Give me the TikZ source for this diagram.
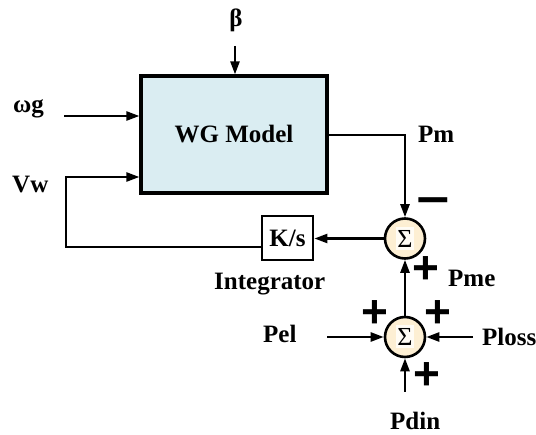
\documentclass[tikz,border=0pt]{standalone}
\usepackage{fontspec}
\setmainfont{Liberation Serif}
\newfontfamily\signfont{Liberation Sans}
\usetikzlibrary{arrows.meta}
\definecolor{boxblue}{HTML}{DAEDF2}
\definecolor{cream}{HTML}{FDEFD3}
\definecolor{sigbg}{HTML}{FFFCF5}
\begin{document}
\begin{tikzpicture}[x=1pt,y=-1pt,
  lbl/.style={font=\fontsize{25}{30}\selectfont\bfseries, inner sep=0pt},
  arr/.style={line width=2.4pt, -{Triangle[length=13pt,width=9pt]}},
  sumnode/.style={circle, draw, line width=2.6pt, fill=cream, minimum size=40pt, inner sep=0pt,
    font=\fontsize{26}{30}\selectfont,
    path picture={\fill[sigbg] ([xshift=-9pt,yshift=-11.5pt]path picture bounding box.center) rectangle ++(18pt,23pt);}},
  sign/.style={font=\signfont\fontsize{46}{50}\selectfont\bfseries, inner sep=0pt}
]
\useasboundingbox (0,0) rectangle (536,435);

% blocks
\node[draw, line width=3.2pt, fill=boxblue, minimum width=186pt, minimum height=117pt, lbl] (wg) at (234,134.5) {WG Model};
\node[draw, line width=2.8pt, fill=white, minimum width=51pt, minimum height=44pt, lbl] (ks) at (287.5,238) {K/s};
\node[sumnode] (s1) at (405,238.5) {Σ};
\node[sumnode] (s2) at (405,337) {Σ};

% coordinates
\coordinate (bIn) at (235,46);
\coordinate (wIn) at (64,116);
\coordinate (vwb) at (66,247);
\coordinate (vwt) at (66,177);
\coordinate (pmc) at (405,135);
\coordinate (pelIn) at (327,337);
\coordinate (plossIn) at (473,337);
\coordinate (pdinIn) at (405,392);

% connectors
\draw[arr] (bIn) -- (bIn |- wg.north);
\draw[arr] (wIn) -- (wIn -| wg.west);
\draw[arr] (ks.west |- vwb) -- (vwb) -- (vwt) -- (vwt -| wg.west);
\draw[arr] (wg.east |- pmc) -- (pmc) -- (s1.north);
\draw[arr] (s1.west) -- (s1.west -| ks.east);
\draw[arr] (s2.north) -- (s1.south);
\draw[arr] (pelIn) -- (s2.west);
\draw[arr] (plossIn) -- (s2.east);
\draw[arr] (pdinIn) -- (s2.south);

% labels
\node[lbl, anchor=base] (beta) at (236,27) {β};
\node[lbl, anchor=base west] (wg-lbl) at (13,113) {ωg};
\node[lbl, anchor=base west] (vw-lbl) at (12,193) {Vw};
\node[lbl, anchor=base west] (pm-lbl) at (418,143) {Pm};
\node[lbl, anchor=base west] (pme-lbl) at (448,287) {Pme};
\node[lbl, anchor=base west] (int-lbl) at (214,290) {Integrator};
\node[lbl, anchor=base west] (pel-lbl) at (263,343) {Pel};
\node[lbl, anchor=base west] (ploss-lbl) at (482,346) {Ploss};
\node[lbl, anchor=base west] (pdin-lbl) at (390,430) {Pdin};

% signs
\node[sign, xscale=1.25] (m1) at (433,207) {−};
\node[sign] (p1) at (426,270) {+};
\node[sign] (p2) at (375,314) {+};
\node[sign] (p3) at (438,314) {+};
\node[sign] (p4) at (427,376) {+};
\end{tikzpicture}
\end{document}
